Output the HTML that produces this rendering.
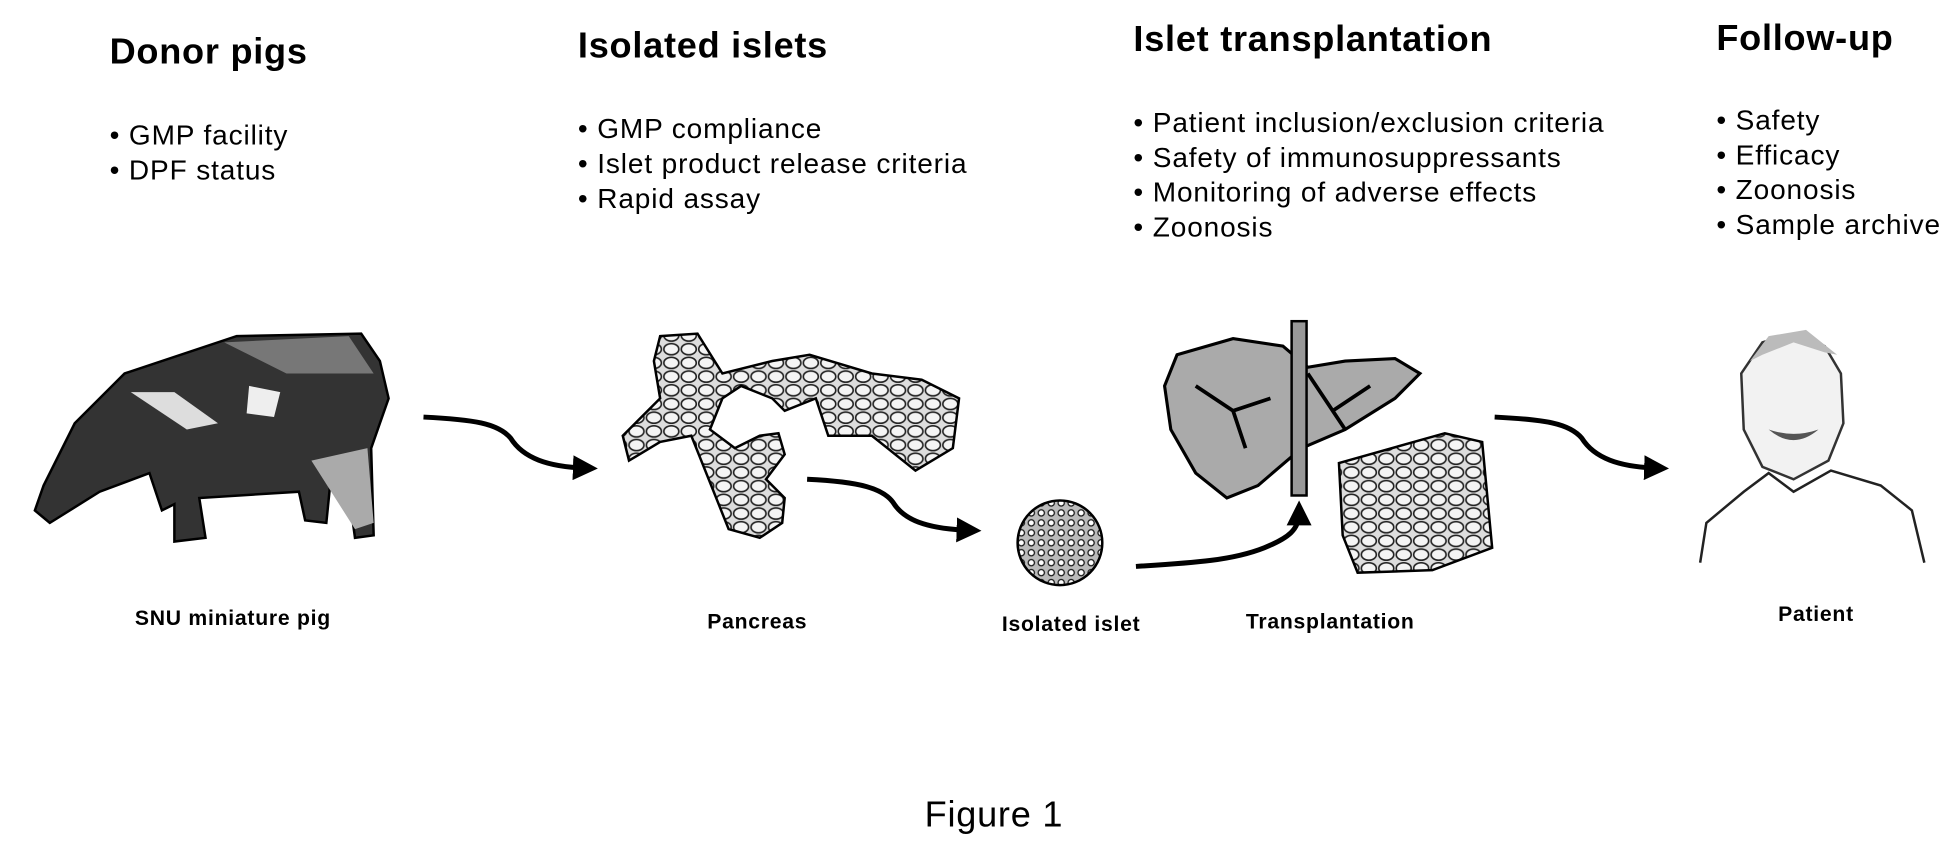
<!DOCTYPE html>
<html><head><style>
html,body{margin:0;padding:0;background:#fff;}
svg{display:block;}
text{font-family:"Liberation Sans","DejaVu Sans",sans-serif;fill:#000;}
.h{font-size:29px;font-weight:bold;letter-spacing:0.6px;}
.b{font-size:22.5px;letter-spacing:0.7px;}
.l{font-size:17px;font-weight:bold;letter-spacing:0.6px;}
</style></head><body>
<svg width="1953" height="859" viewBox="0 0 1568 690" preserveAspectRatio="none" xmlns="http://www.w3.org/2000/svg">
<defs>
<marker id="ah" markerWidth="5" markerHeight="5" refX="2.5" refY="2.5" orient="auto" markerUnits="strokeWidth">
<path d="M0,0 L5,2.5 L0,5 Z" fill="#000"/></marker>
<pattern id="cells" width="14" height="11" patternUnits="userSpaceOnUse">
<rect width="14" height="11" fill="#ddd"/>
<ellipse cx="7" cy="5.5" rx="6" ry="4.5" fill="#f4f4f4" stroke="#222" stroke-width="1.3"/>
</pattern>
<pattern id="dots" width="8" height="8" patternUnits="userSpaceOnUse">
<rect width="8" height="8" fill="#bbb"/><circle cx="4" cy="4" r="2.5" fill="#fff" stroke="#111" stroke-width="1"/>
</pattern>
</defs>

<text class="h" x="88" y="51">Donor pigs</text>
<text class="b" x="88" y="116">• GMP facility</text>
<text class="b" x="88" y="144">• DPF status</text>

<text class="h" x="464" y="46">Isolated islets</text>
<text class="b" x="464" y="111">• GMP compliance</text>
<text class="b" x="464" y="139">• Islet product release criteria</text>
<text class="b" x="464" y="167">• Rapid assay</text>

<text class="h" x="910" y="41">Islet transplantation</text>
<text class="b" x="910" y="106">• Patient inclusion/exclusion criteria</text>
<text class="b" x="910" y="134">• Safety of immunosuppressants</text>
<text class="b" x="910" y="162">• Monitoring of adverse effects</text>
<text class="b" x="910" y="190">• Zoonosis</text>

<text class="h" x="1378" y="40">Follow-up</text>
<text class="b" x="1378" y="104">• Safety</text>
<text class="b" x="1378" y="132">• Efficacy</text>
<text class="b" x="1378" y="160">• Zoonosis</text>
<text class="b" x="1378" y="188">• Sample archive</text>

<!-- pig -->
<path d="M40,420 L28,410 L35,390 L60,340 L100,300 L190,270 L290,268 L305,290 L312,320 L298,360 L300,430 L285,432 L280,395 L265,390 L262,420 L245,418 L240,395 L160,400 L165,432 L140,435 L140,405 L130,410 L120,380 L80,395 Z" fill="#333" stroke="#000" stroke-width="2"/>
<path d="M180,275 L280,270 L300,300 L230,300 Z" fill="#777"/>
<path d="M105,315 L150,345 L175,340 L140,315 Z" fill="#ddd"/>
<path d="M200,310 L225,315 L220,335 L198,332 Z" fill="#eee"/>
<path d="M250,370 L295,360 L300,420 L285,425 Z" fill="#aaa"/>

<!-- pancreas -->
<path d="M530,270 L560,268 L580,300 L620,290 L650,285 L700,300 L740,305 L770,320 L765,360 L735,378 L700,350 L665,350 L655,320 L630,330 L620,320 L595,310 L580,320 L570,345 L590,360 L610,350 L625,348 L630,365 L615,385 L630,400 L628,420 L610,432 L585,425 L575,400 L565,375 L555,350 L530,355 L505,370 L500,350 L530,320 L525,290 Z" fill="url(#cells)" stroke="#000" stroke-width="2"/>

<!-- islet -->
<circle cx="851" cy="436" r="34" fill="url(#dots)" stroke="#000" stroke-width="2"/>

<!-- liver -->
<path d="M945,285 L990,272 L1030,278 L1050,295 L1080,290 L1120,288 L1140,300 L1120,320 L1080,345 L1045,360 L1010,390 L985,400 L960,380 L940,345 L935,310 Z" fill="#aaa" stroke="#000" stroke-width="2.5"/>
<path d="M960,310 L990,330 L1020,320 M990,330 L1000,360 M1050,300 L1070,330 L1100,310 M1070,330 L1080,345" stroke="#000" stroke-width="3" fill="none"/>
<rect x="1037" y="258" width="12" height="140" fill="#999" stroke="#000" stroke-width="2"/>
<path d="M1075,372 L1160,348 L1190,355 L1198,440 L1150,458 L1090,460 L1078,430 Z" fill="url(#cells)" stroke="#000" stroke-width="2"/>

<!-- patient -->
<path d="M1398,300 L1415,275 L1440,268 L1465,278 L1478,300 L1480,340 L1468,370 L1440,385 L1415,375 L1400,345 Z" fill="#f2f2f2" stroke="#333" stroke-width="2"/>
<path d="M1405,290 L1420,270 L1450,265 L1475,285 L1465,283 L1440,275 L1415,285 Z" fill="#bbb"/>
<path d="M1420,345 Q1440,362 1460,345 Q1440,352 1420,345 Z" fill="#555"/>
<path d="M1365,452 L1370,420 L1400,395 L1420,380 L1440,395 L1470,378 L1510,390 L1535,410 L1545,452" fill="none" stroke="#222" stroke-width="2"/>

<!-- arrows -->
<g fill="none" stroke="#000" stroke-width="4" marker-end="url(#ah)">
<path d="M340,335 C380,337 400,340 410,352 C420,368 440,375 470,376"/>
<path d="M648,385 C690,387 710,392 718,405 C728,420 750,425 778,426"/>
<path d="M912,455 C960,452 990,450 1015,440 C1035,432 1043,425 1043,412"/>
<path d="M1200,335 C1240,337 1260,340 1270,352 C1280,368 1300,375 1330,376"/>
</g>

<text class="l" x="187" y="502" text-anchor="middle">SNU miniature pig</text>
<text class="l" x="608" y="505" text-anchor="middle">Pancreas</text>
<text class="l" x="860" y="507" text-anchor="middle">Isolated islet</text>
<text class="l" x="1068" y="505" text-anchor="middle">Transplantation</text>
<text class="l" x="1458" y="499" text-anchor="middle">Patient</text>

<text x="798" y="664" text-anchor="middle" style="font-size:29px;letter-spacing:0.6px">Figure 1</text>
</svg>
</body></html>
